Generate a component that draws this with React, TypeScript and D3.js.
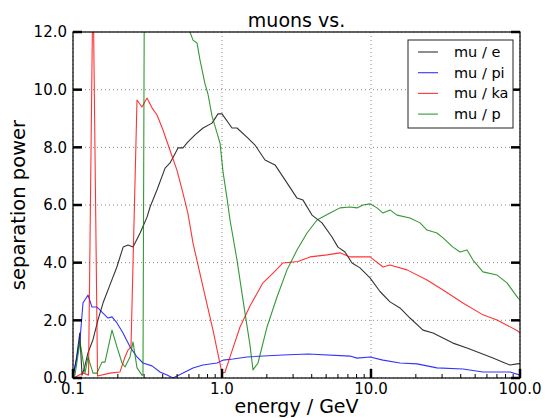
import React from "react";
import * as d3 from "d3";

const W = 545;
const H = 418;

const muE: [number, number][] = [
  [0.1, 0.05], [0.105, 0.6], [0.111, 1.56], [0.115, 0.1], [0.12, 0.4], [0.126, 0.87],
  [0.136, 1.32], [0.147, 2.01], [0.159, 2.6], [0.177, 3.23], [0.197, 3.85], [0.217, 4.54],
  [0.234, 4.61], [0.253, 4.54], [0.282, 5.03], [0.314, 5.58], [0.329, 5.93], [0.366, 6.52],
  [0.415, 7.28], [0.448, 7.46], [0.507, 7.98], [0.547, 7.98], [0.591, 8.19], [0.659, 8.43],
  [0.746, 8.67], [0.857, 8.84], [0.94, 9.16], [1.0, 9.16], [1.167, 8.67], [1.261, 8.67],
  [1.494, 8.32], [1.665, 8.08], [1.944, 7.56], [2.269, 7.39], [2.648, 6.87], [3.187, 6.24],
  [3.497, 6.17], [4.018, 5.65], [4.69, 5.38], [5.473, 4.89], [6.004, 4.54], [6.691, 4.37],
  [7.458, 3.99], [8.437, 3.82], [9.847, 3.47], [11.49, 3.0], [13.41, 2.64], [15.65, 2.43],
  [18.27, 2.08], [22.34, 1.66], [26.07, 1.56], [30.42, 1.39], [35.5, 1.21], [44.1, 1.04],
  [53.9, 0.87], [65.9, 0.69], [76.9, 0.55], [85.7, 0.45], [95.5, 0.49], [100, 0.5],
];

const muPi: [number, number][] = [
  [0.1, 0.03], [0.1114, 1.32], [0.1167, 2.6], [0.1261, 2.88], [0.1341, 2.46], [0.1449, 2.46],
  [0.1589, 2.25], [0.1717, 2.08], [0.1827, 2.12], [0.1973, 1.91], [0.2166, 1.56], [0.2413, 1.08],
  [0.2689, 0.73], [0.2949, 0.52], [0.3391, 0.42], [0.3836, 0.21], [0.4274, 0.1], [0.469, 0.0],
  [0.5474, 0.17], [0.6389, 0.35], [0.7456, 0.45], [0.9256, 0.52], [1.016, 0.62], [1.185, 0.66],
  [1.472, 0.73], [2.567, 0.8], [3.777, 0.83], [7.23, 0.76], [8.05, 0.69], [9.85, 0.73],
  [12.04, 0.62], [15.65, 0.52], [20.36, 0.49], [27.7, 0.35], [41.4, 0.31], [56.4, 0.21],
  [85.7, 0.21], [100, 0.1],
];

const muKa: [number, number][] = [
  [0.1, 0.03], [0.1031, 0.03], [0.1167, 0.17], [0.1271, 0.1], [0.1362, 14], [0.1461, 0.07],
  [0.1771, 0.17], [0.2067, 0.21], [0.2234, 0.73], [0.2339, 0.97], [0.245, 1.08], [0.2689, 9.64],
  [0.2904, 9.4], [0.3138, 9.71], [0.3391, 9.37], [0.3663, 9.12], [0.4018, 8.6], [0.4477, 7.9],
  [0.4989, 7.2], [0.5474, 6.4], [0.5911, 5.7], [0.6389, 4.68], [0.7456, 3.16], [0.87, 1.66],
  [1.0, 0.17], [1.047, 0.2], [1.132, 0.73], [1.321, 1.77], [1.541, 2.5], [1.884, 3.3],
  [2.199, 3.64], [2.567, 3.99], [3.236, 4.04], [3.895, 4.2], [5.067, 4.27], [6.193, 4.34],
  [7.23, 4.2], [8.84, 4.2], [9.85, 4.2], [12.04, 3.85], [13.41, 3.92], [17.44, 3.75],
  [23.76, 3.4], [30.42, 3.05], [41.4, 2.6], [56.4, 2.19], [70.1, 2.01], [95.5, 1.65], [100, 1.56],
];

const muP: [number, number][] = [
  [0.1, 0.1], [0.1031, 0.1], [0.1114, 1.25], [0.1204, 0.17], [0.1261, 0.73], [0.1362, 0.17],
  [0.1449, 0.17], [0.1565, 0.55], [0.164, 0.55], [0.1827, 1.66], [0.1973, 1.08], [0.2133, 0.52],
  [0.2234, 0.38], [0.2413, 0.73], [0.2527, 1.25], [0.2689, 0.35], [0.2904, 0.1], [0.2949, 0.1],
  [0.3042, 20], [0.5, 16], [0.58, 12.6], [0.6097, 12.0], [0.6389, 11.72], [0.6796, 11.62],
  [0.7116, 11.03], [0.769, 10.2], [0.805, 9.85], [0.8567, 9.09], [0.9256, 8.5], [0.9696, 8.15],
  [1.016, 7.15], [1.08, 6.24], [1.132, 5.48], [1.261, 4.09], [1.383, 2.71], [1.541, 1.14],
  [1.614, 0.28], [1.744, 0.52], [2.005, 1.77], [2.339, 2.81], [2.731, 3.75], [3.187, 4.44],
  [3.72, 5.03], [4.341, 5.48], [5.305, 5.72], [6.193, 5.9], [7.23, 5.93], [8.05, 5.9],
  [8.84, 6.0], [9.85, 6.04], [10.97, 5.9], [12.04, 5.72], [13.41, 5.83], [14.95, 5.65],
  [18.27, 5.55], [21.33, 5.38], [23.76, 5.13], [27.7, 5.03], [30.42, 4.86], [35.5, 4.54],
  [39.56, 4.37], [44.1, 4.44], [48.37, 4.09], [56.4, 3.68], [70.1, 3.57], [81.8, 3.3],
  [97, 2.77], [100, 2.72],
];

const seriesNames = ["mu / e", "mu / pi", "mu / ka", "mu / p"];
const seriesColors = ["#000000", "#0000ff", "#ff0000", "#008000"];
const seriesData = [muE, muPi, muKa, muP];

const xMajorTicks = [0.1, 1, 10, 100];
const xTickLabels = ["0.1", "1.0", "10.0", "100.0"];
const yTicks = [0, 2, 4, 6, 8, 10, 12];
const yTickLabels = ["0.0", "2.0", "4.0", "6.0", "8.0", "10.0", "12.0"];

const titleText = "muons vs.";
const xLabel = "energy / GeV";
const yLabel = "separation power";

const FONT = "'DejaVu Sans', sans-serif";

export default function App() {
  const left = 73, right = 520, top = 32, bottom = 378;
  const x = d3.scaleLog().domain([0.1, 100]).range([left, right]);
  const y = d3.scaleLinear().domain([0, 12]).range([bottom, top]);
  const line = d3
    .line<[number, number]>()
    .x((d) => x(d[0]))
    .y((d) => y(d[1]));

  const minor: number[] = [];
  [0.1, 1, 10].forEach((b) => {
    for (let k = 2; k <= 9; k++) minor.push(b * k);
  });

  return (
    <svg width={W} height={H} style={{ position: "absolute", left: 0, top: 0 }} fontFamily={FONT}>
      <rect x={0} y={0} width={W} height={H} fill="#ffffff" />
      <defs>
        <clipPath id="plotclip">
          <rect x={left} y={top} width={right - left} height={bottom - top} />
        </clipPath>
      </defs>
      {/* grid */}
      <g stroke="#888" strokeWidth={1} strokeDasharray="1,3">
        {xMajorTicks.map((t, i) => (
          <line key={"gx" + i} x1={x(t)} x2={x(t)} y1={top} y2={bottom} />
        ))}
        {yTicks.map((t, i) => (
          <line key={"gy" + i} x1={left} x2={right} y1={y(t)} y2={y(t)} />
        ))}
      </g>
      {/* data */}
      <g clipPath="url(#plotclip)" fill="none" strokeWidth={1.1} strokeLinejoin="round">
        {seriesData.map((d, i) => (
          <path key={"s" + i} d={line(d) || ""} stroke={seriesColors[i]} strokeOpacity={0.8} />
        ))}
      </g>
      {/* frame */}
      <rect x={left} y={top} width={right - left} height={bottom - top} fill="none" stroke="#000" strokeWidth={1.2} />
      {/* y ticks */}
      <g stroke="#000" strokeWidth={2.5}>
        {yTicks.map((t, i) => (
          <g key={"yt" + i}>
            <line x1={left} x2={left + 9} y1={y(t)} y2={y(t)} />
            <line x1={right - 9} x2={right} y1={y(t)} y2={y(t)} />
          </g>
        ))}
        {xMajorTicks.map((t, i) => (
          <line key={"xt" + i} x1={x(t)} x2={x(t)} y1={bottom} y2={bottom - 9} />
        ))}
      </g>
      <g stroke="#000" strokeWidth={1}>
        {minor.map((t, i) => (
          <line key={"mt" + i} x1={x(t)} x2={x(t)} y1={bottom} y2={bottom - 4} />
        ))}
      </g>
      {/* tick labels */}
      <g fontSize={15} fill="#000">
        {yTicks.map((t, i) => (
          <text key={"yl" + i} x={left - 6} y={y(t)} dy="0.35em" textAnchor="end">
            {yTickLabels[i]}
          </text>
        ))}
        {xMajorTicks.map((t, i) => (
          <text key={"xl" + i} x={x(t)} y={bottom + 16} textAnchor="middle">
            {xTickLabels[i]}
          </text>
        ))}
      </g>
      {/* labels */}
      <text x={(left + right) / 2} y={27} textAnchor="middle" fontSize={19}>
        {titleText}
      </text>
      <text x={(left + right) / 2} y={413} textAnchor="middle" fontSize={19}>
        {xLabel}
      </text>
      <text
        transform={`translate(25,${(top + bottom) / 2}) rotate(-90)`}
        textAnchor="middle"
        fontSize={19.5}
      >
        {yLabel}
      </text>
      {/* legend */}
      <g>
        <rect x={408} y={40} width={105} height={88} fill="#fff" stroke="#222" strokeWidth={1} />
        {seriesNames.map((n, i) => {
          const cy = 52 + i * 20.7;
          return (
            <g key={"lg" + i}>
              <line x1={418} x2={438} y1={cy} y2={cy} stroke={seriesColors[i]} strokeOpacity={0.8} strokeWidth={1.1} />
              <text x={454} y={cy} dy="0.35em" fontSize={14.5}>
                {n}
              </text>
            </g>
          );
        })}
      </g>
    </svg>
  );
}
